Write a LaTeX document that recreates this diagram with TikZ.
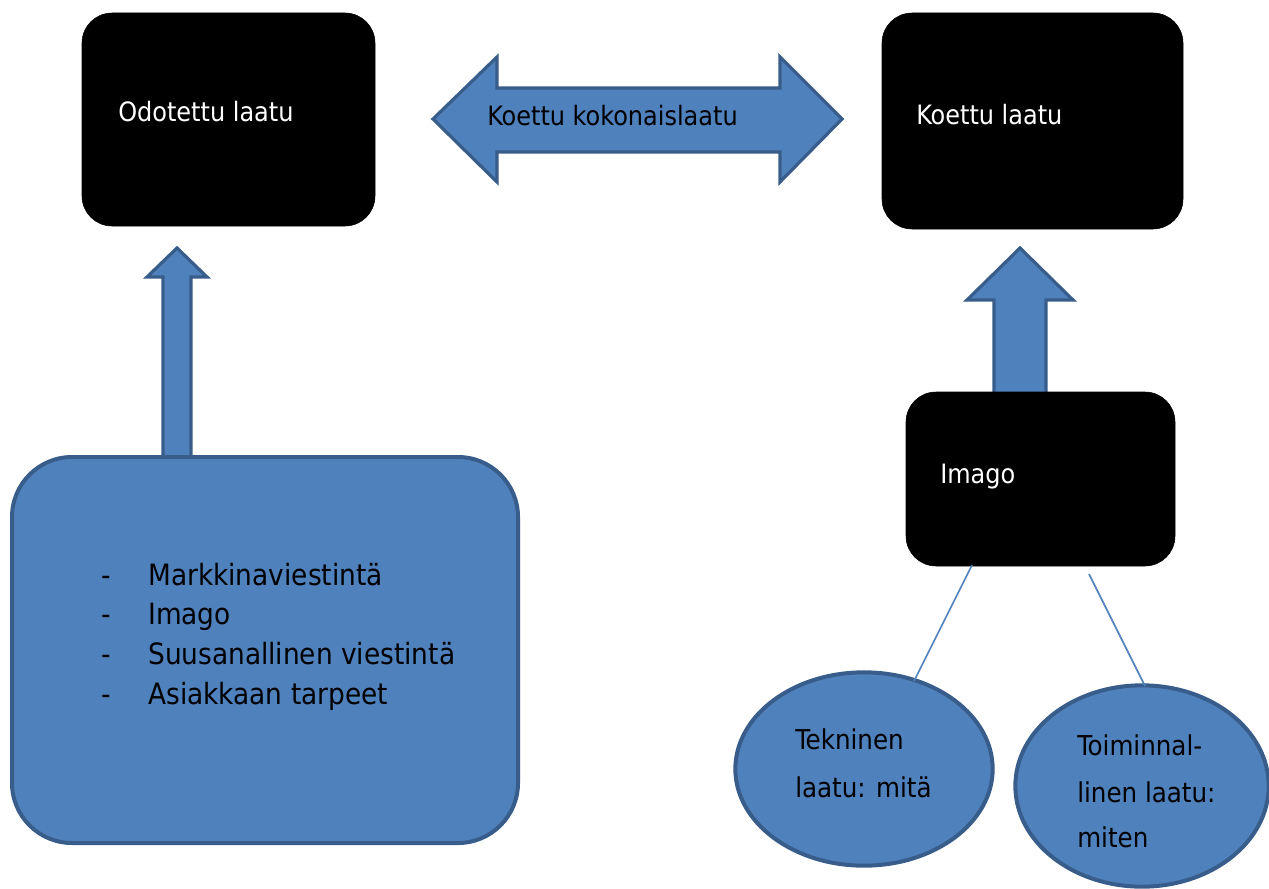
\documentclass[tikz,border=0pt]{standalone}
\usepackage{fontspec}
\setmainfont{DejaVu Sans Condensed}
\usetikzlibrary{shapes.geometric}
\definecolor{fillblue}{HTML}{4F81BD}
\definecolor{edgeblue}{HTML}{385D8A}
\tikzset{
  blackbox/.style={fill=black, draw=black, rounded corners=22.5pt},
  boxlabel/.style={anchor=base west, inner sep=0pt, text=white, font=\fontsize{20}{24}\selectfont},
  bluearrow/.style={fill=fillblue, draw=edgeblue, line width=2.4pt, line join=miter},
  ovalbox/.style={ellipse, fill=fillblue, draw=edgeblue, line width=3pt},
  ovaltext/.style={anchor=base west, inner sep=0pt, font=\fontsize{20.5}{35}\selectfont},
  listtext/.style={anchor=base west, inner sep=0pt, font=\fontsize{22}{30}\selectfont},
  thinline/.style={draw=fillblue, line width=1.2pt}
}
\begin{document}
\begin{tikzpicture}[x=0.75pt, y=-0.75pt]
\useasboundingbox[fill=white] (0,0) rectangle (1269,888);

% up arrow left (behind big box)
\draw[bluearrow] (163,460) -- (163,277) -- (147,277) -- (177,248) -- (207,277) -- (191,277) -- (191,460) -- cycle;
% up arrow right (behind imago box)
\draw[bluearrow] (994,396) -- (994,300) -- (967,300) -- (1020,248) -- (1073,300) -- (1046,300) -- (1046,396) -- cycle;
% double arrow
\draw[bluearrow] (433,119) -- (497,57) -- (497,88) -- (780,88) -- (780,57) -- (842,119) -- (780,182) -- (780,152) -- (497,152) -- (497,182) -- cycle;
\node[boxlabel, text=black] (kk) at (487,126) {Koettu kokonaislaatu};

% black boxes
\draw[blackbox] (82,13) rectangle (375,226);
\node[boxlabel] (ol) at (118,122) {Odotettu laatu};
\draw[blackbox] (882,13) rectangle (1183,229);
\node[boxlabel] (kl) at (916,125) {Koettu laatu};
\draw[blackbox] (906,392) rectangle (1175,566);
\node[boxlabel] (im) at (940,483) {Imago};

% big blue box
\draw[fill=fillblue, draw=edgeblue, line width=3pt, rounded corners=45pt] (12,457) rectangle (518,843);
\node[listtext] (d1) at (101,585) {-};
\node[listtext] (t1) at (148,585) {Markkinaviestintä};
\node[listtext] (d2) at (101,624) {-};
\node[listtext] (t2) at (148,624) {Imago};
\node[listtext] (d3) at (101,664) {-};
\node[listtext] (t3) at (148,664) {Suusanallinen viestintä};
\node[listtext] (d4) at (101,704) {-};
\node[listtext] (t4) at (148,704) {Asiakkaan tarpeet};

% connector lines
\coordinate (l1a) at (972,565);
\coordinate (l2a) at (1089,574);
% ellipses
\node[ovalbox, minimum width=193pt, minimum height=145pt] (tek) at (864,769) {};
\node[ovalbox, minimum width=190pt, minimum height=151pt] (toi) at (1142,786) {};
\draw[thinline] (l1a) -- (914,681);
\draw[thinline] (l2a) -- (1145,686);
\node[ovaltext] (tekt1) at (795,749) {Tekninen};
\node[ovaltext] (tekt2) at (795,797) {laatu: mitä};
\node[ovaltext] (toit1) at (1077,755) {Toiminnal-};
\node[ovaltext] (toit2) at (1077,802) {linen laatu:};
\node[ovaltext] (toit3) at (1077,847) {miten};
\end{tikzpicture}
\end{document}
